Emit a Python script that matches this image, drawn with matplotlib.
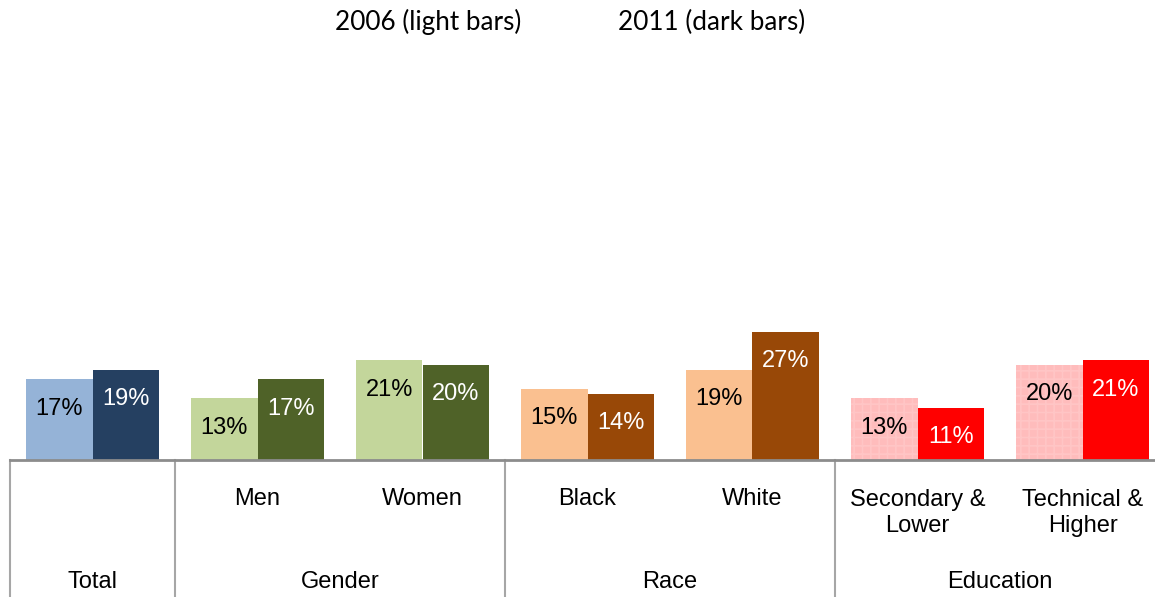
import matplotlib
matplotlib.use('Agg')
import matplotlib.pyplot as plt
import matplotlib.transforms as mtransforms
import numpy as np

# data
categories = ['Total', 'Men', 'Women', 'Black', 'White',
              'Secondary &\nLower', 'Technical &\nHigher']
groups = ['Total', 'Gender', 'Race', 'Education']
group_spans = [(0, 0), (1, 2), (3, 4), (5, 6)]
v2006 = [17, 13, 21, 15, 19, 13, 20]
v2011 = [19, 17, 20, 14, 27, 11, 21]

light_colors = ['#95B3D7', '#C3D69B', '#C3D69B', '#FAC090', '#FAC090', '#FFBCBC', '#FFBCBC']
dark_colors = ['#254061', '#4F6228', '#4F6228', '#984807', '#984807', '#FF0000', '#FF0000']

fig = plt.figure(figsize=(11.55, 5.97), dpi=100)
ax = fig.add_axes([10 / 1155, 137 / 597, 1.0, 410 / 597])

x = np.arange(len(categories))
w = 0.405
bars_light = ax.bar(x - w / 2, v2006, width=w, color=light_colors, linewidth=0)
bars_dark = ax.bar(x + w / 2, v2011, width=w, color=dark_colors, linewidth=0)

# faint checker texture on the pink bars
plt.rcParams['hatch.linewidth'] = 1.2
for i in (5, 6):
    ax.bar(x[i] - w / 2, v2006[i], width=w, fill=False, hatch='++',
           edgecolor='#FFC5C5', linewidth=0)

ax.set_xlim(-0.5, 6.5)
ax.set_ylim(0, 86.5)
for s in ['top', 'right', 'left']:
    ax.spines[s].set_visible(False)
ax.spines['bottom'].set_color('#8C8C8C')
ax.spines['bottom'].set_linewidth(2)
ax.set_yticks([])
ax.set_xticks([])

lab_font = dict(fontsize=17, family='Liberation Sans')

# value labels just inside bar tops
for b, v in zip(bars_light, v2006):
    ax.annotate(f'{v}%', (b.get_x() + b.get_width() / 2, v), xytext=(0, -21),
                textcoords='offset points', ha='center', va='center',
                color='black', **lab_font)
for b, v in zip(bars_dark, v2011):
    ax.annotate(f'{v}%', (b.get_x() + b.get_width() / 2, v), xytext=(0, -21),
                textcoords='offset points', ha='center', va='center',
                color='white', **lab_font)

# category labels under the axis (Total has only its group label)
for xi, c in zip(x, categories):
    if c in groups:
        continue
    off = -39 if '\n' not in c else -53
    ax.annotate(c, (xi, 0), xytext=(0, off * 0.72), textcoords='offset points',
                ha='center', va='center', linespacing=1.25,
                annotation_clip=False, **lab_font)

# group labels and separators
trans = mtransforms.blended_transform_factory(ax.transData, ax.transAxes)
for g, (a, b) in zip(groups, group_spans):
    ax.annotate(g, ((a + b) / 2, 0), xytext=(0, -122 * 0.72), textcoords='offset points',
                ha='center', va='center', annotation_clip=False, **lab_font)
    ax.plot([a - 0.5, a - 0.5], [0, -0.4], transform=trans, color='#A6A6A6',
            linewidth=1.5, clip_on=False)

# legend text at the top
fig.text(428 / 1155, 1 - 22 / 597, '2006 (light bars)', ha='center', va='center',
         fontsize=18.8, family='Lato')
fig.text(712 / 1155, 1 - 22 / 597, '2011 (dark bars)', ha='center', va='center',
         fontsize=18.8, family='Lato')

fig.savefig('out.png', dpi=100)
